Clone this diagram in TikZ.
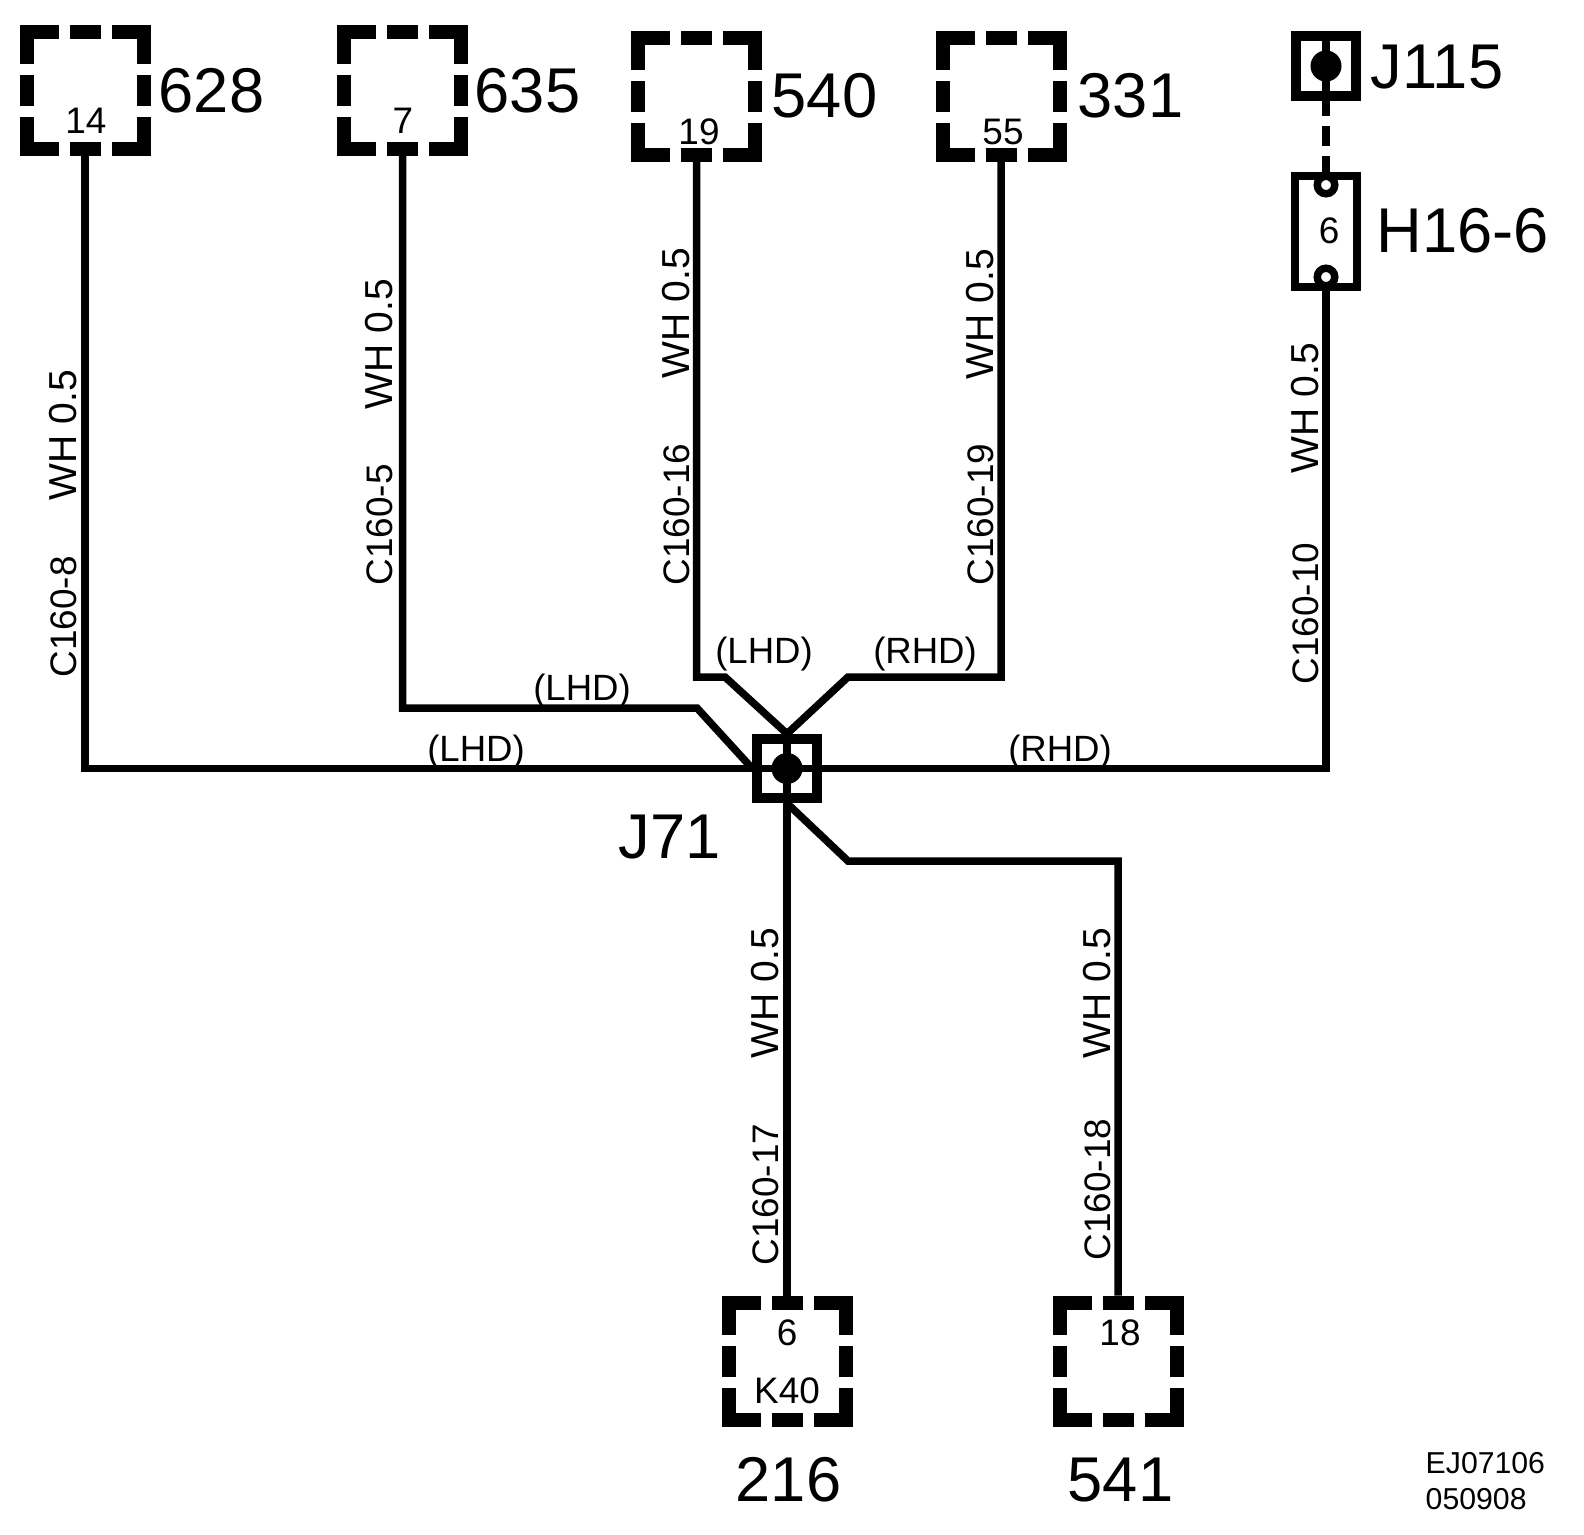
\documentclass[tikz,border=0pt]{standalone}
\usepackage{fontspec}
\setmainfont{Liberation Sans}
\usepackage{tikz}
\usetikzlibrary{positioning,calc}
\tikzstyle{wire} = [line width=0.75mm,color=black]
\tikzstyle{dashwire} = [wire,dash pattern=on 2mm off 1mm,dash phase=0.5mm]
\tikzstyle{termbox} = [draw,line width=1.4mm,minimum size=11.7mm,inner sep=0pt,dash pattern=on 6.4mm off 1.1mm on 3.1mm off 1.1mm,dash phase=3.2mm,
  append after command={\pgfextra{\fill (\tikzlastnode.south west) rectangle ++(1.4mm,1.4mm);}}]
\tikzstyle{junction} = [draw,line width=1mm,minimum size=5.95mm,inner sep=0pt]
\tikzstyle{jdot} = [circle,fill=black,minimum size=3.1mm,inner sep=0pt]
\tikzstyle{pin} = [circle,draw,fill=white,line width=0.75mm,minimum size=1.75mm,inner sep=0pt]
\tikzstyle{bigtext} = [inner sep=0pt,anchor=base west,font=\fontsize{18pt}{20pt}\selectfont]
\tikzstyle{pintext} = [inner sep=0pt,anchor=base,font=\fontsize{10.5pt}{13pt}\selectfont]
\tikzstyle{wiretext} = [inner sep=0pt,anchor=base west,rotate=90,font=\fontsize{11.1pt}{13pt}\selectfont]
\tikzstyle{conntext} = [wiretext,font=\fontsize{10.5pt}{13pt}\selectfont]
\tikzstyle{sidetext} = [inner sep=0pt,anchor=base,font=\fontsize{10.4pt}{13pt}\selectfont]
\tikzstyle{codetext} = [inner sep=0pt,anchor=base west,font=\fontsize{8.6pt}{10pt}\selectfont]

\begin{document}
\begin{tikzpicture}[x=0.1mm,y=-0.1mm]
\useasboundingbox (0,0) rectangle (1584,1534);

% Terminal boxes
\node[termbox] (box628) at (85,90) {};
\node[termbox] (box635) at (402.5,90) {};
\node[termbox] (box540) at (696.5,96.5) {};
\node[termbox] (box331) at (1001,96.5) {};
\node[termbox] (boxK40) at (787,1361) {};
\node[termbox] (box541) at (1118,1361) {};

% Splices
\node[junction] (J71) at (787,768.5) {};
\node[junction] (J115) at (1326,66) {};
\node[draw,line width=0.8mm,minimum width=6.2mm,minimum height=11.1mm,inner sep=0pt] (H16) at (1326,231.5) {};

% Bend points
\coordinate (bend635) at (697,708);
\coordinate (bend540) at (725,677);
\coordinate (bend331) at (848,677);
\coordinate (bend541) at (848,861);

% Wires
\draw[wire] (box628.south) |- (J71.center);
\draw[wire] (box635.south) |- (bend635) -- (J71.west);
\draw[wire] (box540.south) |- (bend540) -- (J71.north);
\draw[wire] (box331.south) |- (bend331) -- (J71.north);
\draw[wire] (H16.south) |- (J71.center);
\draw[wire] (J71.north) -- (boxK40.north);
\draw[wire] (J71.south) -- (bend541) -| (box541.north);
\draw[wire] (J115.north) -- (J115.south);
\draw[dashwire] (J115.south) -- (H16.north);

% Dots and pins
\node[jdot] (dot71) at (J71) {};
\node[jdot] (dot115) at (J115) {};
\node[pin] (pinH16a) at (1326,185) {};
\node[pin] (pinH16b) at (1326,277) {};

% Numbers in the boxes
\node[pintext] (num628) at (86,133) {14};
\node[pintext] (num635) at (403,133) {7};
\node[pintext] (num540) at (699,144) {19};
\node[pintext] (num331) at (1003,144) {55};
\node[pintext] (num216) at (787,1345) {6};
\node[pintext] (nameK40) at (787,1403) {K40};
\node[pintext] (num541) at (1120,1345) {18};
\node[pintext] (numH16) at (1329,243) {6};

% Big labels
\node[bigtext] (txt628) at (158,112) {628};
\node[bigtext] (txt635) at (474,112) {635};
\node[bigtext] (txt540) at (771,117) {540};
\node[bigtext] (txt331) at (1077,117) {331};
\node[bigtext] (txtJ115) at (1370,88) {J115};
\node[bigtext] (txtH16) at (1376,252) {H16-6};
\node[bigtext] (txtJ71) at (618,858) {J71};
\node[bigtext] (txt216) at (735,1501) {216};
\node[bigtext] (txt541) at (1067,1501) {541};

% Wire labels
\node[conntext] (c628) at (76,678) {C160-8};
\node[wiretext] (w628) at (76,501) {WH 0.5};
\node[conntext] (c635) at (392,586) {C160-5};
\node[wiretext] (w635) at (392,410) {WH 0.5};
\node[conntext] (c540) at (689,586) {C160-16};
\node[wiretext] (w540) at (689,379) {WH 0.5};
\node[conntext] (c331) at (993,586) {C160-19};
\node[wiretext] (w331) at (993,380) {WH 0.5};
\node[conntext] (cH16) at (1318,685) {C160-10};
\node[wiretext] (wH16) at (1318,474) {WH 0.5};
\node[conntext] (cK40) at (778,1266) {C160-17};
\node[wiretext] (wK40) at (778,1059) {WH 0.5};
\node[conntext] (c541) at (1110,1261) {C160-18};
\node[wiretext] (w541) at (1110,1059) {WH 0.5};

% Drive side labels
\node[sidetext] (lhd628) at (476,761.5) {(LHD)};
\node[sidetext] (rhdH16) at (1060,761.5) {(RHD)};
\node[sidetext] (lhd635) at (582,700.5) {(LHD)};
\node[sidetext] (lhd540) at (764,663.5) {(LHD)};
\node[sidetext] (rhd331) at (925,663.5) {(RHD)};

% Drawing code
\node[codetext] (code1) at (1425,1473) {EJ07106};
\node[codetext] (code2) at (1425,1509) {050908};
\end{tikzpicture}
\end{document}
